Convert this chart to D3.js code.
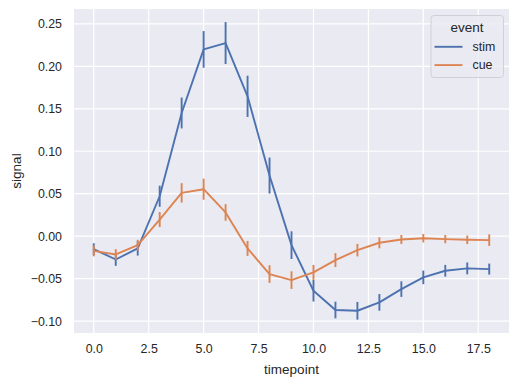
<!DOCTYPE html>
<html><head><meta charset="utf-8">
<script src="https://cdn.jsdelivr.net/npm/d3@7"></script>
<style>body{margin:0;background:#fff}svg{display:block}</style>
</head><body><svg id="c" width="518" height="385"></svg>
<script>
const timepoints = [0,1,2,3,4,5,6,7,8,9,10,11,12,13,14,15,16,17,18];
const stimMean = [-0.0153,-0.0275,-0.0145,0.0470,0.1451,0.2200,0.2275,0.1647,0.0714,-0.0106,-0.0643,-0.0870,-0.0879,-0.0780,-0.0624,-0.0486,-0.0408,-0.0380,-0.0388];
const stimErr  = [0.0069,0.0075,0.0084,0.0124,0.0182,0.0216,0.0247,0.0243,0.0212,0.0163,0.0127,0.0098,0.0104,0.0098,0.0092,0.0080,0.0069,0.0070,0.0065];
const cueMean  = [-0.0173,-0.0216,-0.0106,0.0196,0.0510,0.0553,0.0279,-0.0145,-0.0447,-0.0518,-0.0427,-0.0282,-0.0165,-0.0078,-0.0039,-0.0024,-0.0035,-0.0043,-0.0047];
const cueErr   = [0.0065,0.0063,0.0063,0.0088,0.0114,0.0124,0.0098,0.0088,0.0104,0.0104,0.0088,0.0082,0.0074,0.0065,0.0053,0.0050,0.0049,0.0050,0.0068];
const xTicks = [0,2.5,5,7.5,10,12.5,15,17.5];
const yTicks = [-0.10,-0.05,0.00,0.05,0.10,0.15,0.20,0.25];
const seriesNames = ["stim","cue"];
const colors = ["#4c72b0","#dd8452"];

const svg = d3.select("#c");
const L=74,R=509,T=9,B=333;
const x = d3.scaleLinear().domain([-0.9,18.9]).range([L,R]);
const y = d3.scaleLinear().domain([-0.1141,0.2676]).range([B,T]);
const font = "'Liberation Sans', Arial, sans-serif";

svg.append("rect").attr("x",L).attr("y",T).attr("width",R-L).attr("height",B-T).attr("fill","#eaeaf2");
const g = svg.append("g");
g.selectAll(".gx").data(xTicks).enter().append("line")
  .attr("x1",d=>x(d)).attr("x2",d=>x(d)).attr("y1",T).attr("y2",B)
  .attr("stroke","#fff").attr("stroke-width",1.2);
g.selectAll(".gy").data(yTicks).enter().append("line")
  .attr("x1",L).attr("x2",R).attr("y1",d=>y(d)).attr("y2",d=>y(d))
  .attr("stroke","#fff").attr("stroke-width",1.2);

const xa = svg.append("g").attr("transform",`translate(0,${B})`)
  .call(d3.axisBottom(x).tickValues(xTicks).tickFormat(d3.format(".1f")).tickSize(0).tickPadding(11.5));
const ya = svg.append("g").attr("transform",`translate(${L},0)`)
  .call(d3.axisLeft(y).tickValues(yTicks).tickFormat(d=>d3.format(".2f")(d).replace("-","\u2212")).tickSize(0).tickPadding(12));
[xa,ya].forEach(a=>{a.select(".domain").remove();a.selectAll("text").attr("font-family",font).attr("font-size",12.4).attr("fill","#262626");});

const data = [
  timepoints.map((t,i)=>({t,m:stimMean[i],e:stimErr[i]})),
  timepoints.map((t,i)=>({t,m:cueMean[i],e:cueErr[i]}))
];
const line = d3.line().x(d=>x(d.t)).y(d=>y(d.m));
data.forEach((s,k)=>{
  const gg = svg.append("g");
  gg.append("path").datum(s).attr("d",line).attr("fill","none")
    .attr("stroke",colors[k]).attr("stroke-width",1.9).attr("stroke-linejoin","round").attr("stroke-linecap","round");
  gg.selectAll("line").data(s).enter().append("line")
    .attr("x1",d=>x(d.t)).attr("x2",d=>x(d.t))
    .attr("y1",d=>y(d.m-d.e)).attr("y2",d=>y(d.m+d.e))
    .attr("stroke",colors[k]).attr("stroke-width",1.9);
});

svg.append("text").attr("x",(L+R)/2).attr("y",374).attr("text-anchor","middle")
  .attr("font-family",font).attr("font-size",13.5).attr("fill","#262626").text("timepoint");
svg.append("text").attr("transform",`translate(21,${(T+B)/2}) rotate(-90)`).attr("text-anchor","middle")
  .attr("font-family",font).attr("font-size",13.5).attr("fill","#262626").text("signal");

// legend
const lg = svg.append("g");
lg.append("rect").attr("x",431).attr("y",15.5).attr("width",72.5).attr("height",62).attr("rx",3)
  .attr("fill","#eaeaf2").attr("fill-opacity",0.8).attr("stroke","#d0d0d6").attr("stroke-width",1);
lg.append("text").attr("x",467).attr("y",32).attr("text-anchor","middle")
  .attr("font-family",font).attr("font-size",13.5).attr("fill","#262626").text("event");
seriesNames.forEach((n,i)=>{
  const yy = 46.8 + i*18.3;
  lg.append("line").attr("x1",434.5).attr("x2",462.5).attr("y1",yy).attr("y2",yy).attr("stroke",colors[i]).attr("stroke-width",1.9);
  lg.append("text").attr("x",472.5).attr("y",yy+4.3).attr("font-family",font).attr("font-size",12.4).attr("fill","#262626").text(n);
});
</script></body></html>
